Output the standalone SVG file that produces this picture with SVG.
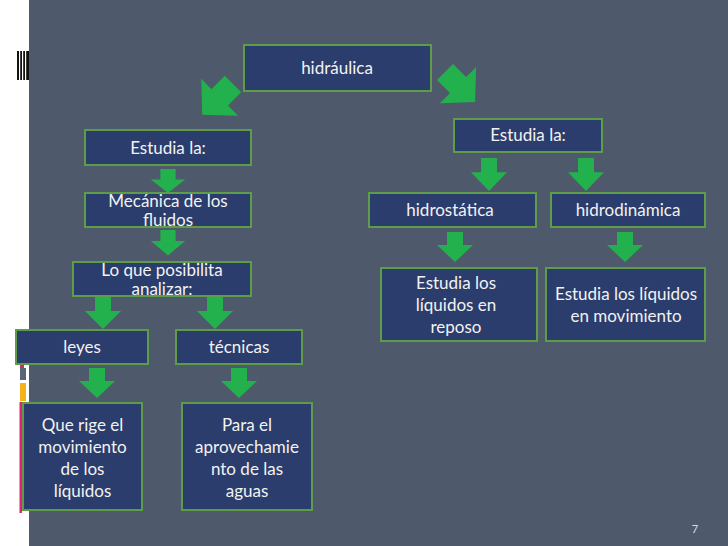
<svg xmlns="http://www.w3.org/2000/svg" xmlns:xlink="http://www.w3.org/1999/xlink" width="728" height="546" viewBox="0 0 728 546">
<style>
.n{fill:#2b3d6c;stroke:#5e9c48;stroke-width:2}
.t{font-family:Lato,"Open Sans",sans-serif;font-size:17px;fill:#f2f2f2;text-anchor:middle}
.a{fill:#22b14c}
</style>
<defs>
<path id="arr" d="M-8,0 H8 V13 H18 L0,30 L-18,13 H-8 Z"/>
</defs>
<rect x="0" y="0" width="728" height="546" fill="#ffffff"/>
<rect x="29" y="0" width="699" height="546" fill="#4e5a6b"/>
<g id="deco">
<rect x="17" y="51" width="12" height="29" fill="#111"/>
<rect x="19" y="51" width="1.2" height="29" fill="#fff"/>
<rect x="22" y="51" width="1.2" height="29" fill="#fff"/>
<rect x="25" y="51" width="1.2" height="29" fill="#fff"/>
<rect x="20" y="364" width="4" height="4" fill="#d6246e"/>
<rect x="20" y="368" width="6" height="12" fill="#5a6678"/>
<rect x="20" y="383" width="6" height="18" fill="#f5b21b"/>
<rect x="19.5" y="402" width="2.5" height="111" fill="#e0207a"/>
</g>
<g id="connectors" class="a">
<use xlink:href="#arr" transform="translate(233,84) rotate(45) scale(1.45)"/>
<use xlink:href="#arr" transform="translate(445,72) rotate(-45) scale(1.42)"/>
<use xlink:href="#arr" transform="translate(168,169) scale(0.95,0.8)"/>
<use xlink:href="#arr" transform="translate(168,230) scale(0.95,0.85)"/>
<use xlink:href="#arr" transform="translate(103,297) scale(1,1.07)"/>
<use xlink:href="#arr" transform="translate(215,297) scale(1,1.07)"/>
<use xlink:href="#arr" transform="translate(97,368) scale(1,1)"/>
<use xlink:href="#arr" transform="translate(239,368) scale(1,1)"/>
<use xlink:href="#arr" transform="translate(489,158) scale(1,1.1)"/>
<use xlink:href="#arr" transform="translate(586,158) scale(1,1.1)"/>
<use xlink:href="#arr" transform="translate(455,232) scale(1,1)"/>
<use xlink:href="#arr" transform="translate(625,232) scale(1,1)"/>
</g>
<g id="n-hidraulica"><rect class="n" x="244" y="45" width="187" height="46"/><text class="t" x="337" y="74">hidráulica</text></g>
<g id="n-estudia-l"><rect class="n" x="85" y="130" width="166" height="35"/><text class="t" x="168" y="154">Estudia la:</text></g>
<g id="n-mecanica"><rect class="n" x="85" y="193" width="166" height="34"/><text class="t" x="168" y="207">Mecánica de los</text><text class="t" x="168" y="226">fluidos</text></g>
<g id="n-loque"><rect class="n" x="73" y="262" width="178" height="34"/><text class="t" x="162" y="276">Lo que posibilita</text><text class="t" x="162" y="295">analizar:</text></g>
<g id="n-leyes"><rect class="n" x="16" y="330" width="132" height="34"/><text class="t" x="82" y="353">leyes</text></g>
<g id="n-tecnicas"><rect class="n" x="176" y="330" width="126" height="34"/><text class="t" x="239" y="353">técnicas</text></g>
<g id="n-querige"><rect class="n" x="23" y="403" width="119" height="107"/><text class="t" x="82.5" y="431">Que rige el</text><text class="t" x="82.5" y="453">movimiento</text><text class="t" x="82.5" y="475">de los</text><text class="t" x="82.5" y="497">líquidos</text></g>
<g id="n-para"><rect class="n" x="182" y="403" width="130" height="107"/><text class="t" x="247" y="431">Para el</text><text class="t" x="247" y="453">aprovechamie</text><text class="t" x="247" y="475">nto de las</text><text class="t" x="247" y="497">aguas</text></g>
<g id="n-estudia-r"><rect class="n" x="454" y="119" width="148" height="33"/><text class="t" x="528" y="141">Estudia la:</text></g>
<g id="n-hidrostatica"><rect class="n" x="369" y="193" width="167" height="34"/><text class="t" x="450" y="216">hidrostática</text></g>
<g id="n-hidrodinamica"><rect class="n" x="551" y="193" width="154" height="34"/><text class="t" x="628" y="216">hidrodinámica</text></g>
<g id="n-reposo"><rect class="n" x="381" y="268" width="156" height="73"/><text class="t" x="456" y="289">Estudia los</text><text class="t" x="456" y="311">líquidos en</text><text class="t" x="456" y="333">reposo</text></g>
<g id="n-movimiento"><rect class="n" x="546" y="268" width="159" height="73"/><text class="t" x="626" y="300">Estudia los líquidos</text><text class="t" x="626" y="322">en movimiento</text></g>
<text x="695" y="533" style="font-family:Lato,sans-serif;font-size:11px;fill:#d8dde5;text-anchor:middle">7</text>
</svg>
